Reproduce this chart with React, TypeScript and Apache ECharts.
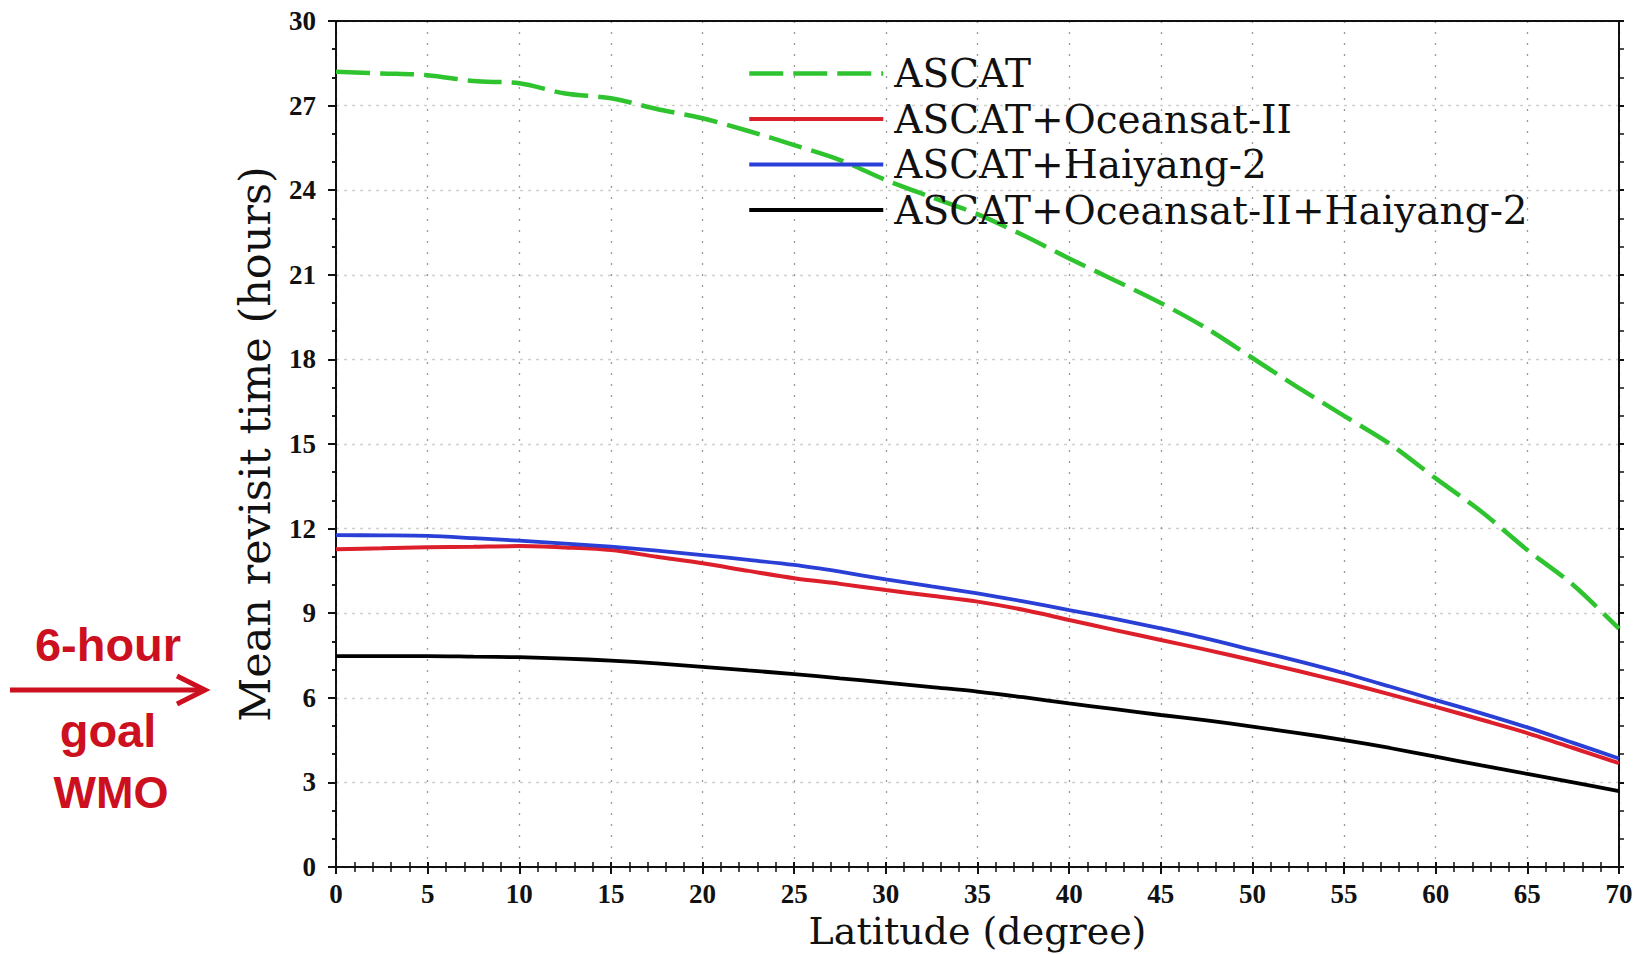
import React, { useEffect, useRef } from "react";
import * as echarts from "echarts";

// Latitude (degree)
const latitude = [0, 2.5, 5, 7.5, 10, 12.5, 15, 17.5, 20, 22.5, 25, 27.5, 30, 32.5, 35, 37.5, 40, 42.5, 45, 47.5, 50, 52.5, 55, 57.5, 60, 62.5, 65, 67.5, 70];

// Mean revisit time (hours)
const ascat = [28.2, 28.14, 28.08, 27.87, 27.79, 27.43, 27.26, 26.88, 26.55, 26.1, 25.6, 25.07, 24.36, 23.75, 23.15, 22.4, 21.58, 20.8, 20.0, 19.1, 18.05, 17.0, 16.0, 15.0, 13.78, 12.6, 11.24, 10.0, 8.45];
const ascatOceansat = [11.27, 11.3, 11.34, 11.36, 11.38, 11.33, 11.24, 11.0, 10.77, 10.5, 10.24, 10.04, 9.82, 9.62, 9.41, 9.12, 8.76, 8.4, 8.05, 7.7, 7.33, 6.95, 6.55, 6.12, 5.68, 5.22, 4.75, 4.22, 3.68];
const ascatHaiyang = [11.77, 11.76, 11.74, 11.66, 11.57, 11.47, 11.36, 11.22, 11.06, 10.89, 10.71, 10.47, 10.2, 9.95, 9.7, 9.42, 9.11, 8.8, 8.46, 8.1, 7.7, 7.3, 6.87, 6.4, 5.92, 5.45, 4.95, 4.4, 3.85];
const ascatAll = [7.48, 7.48, 7.48, 7.46, 7.44, 7.39, 7.32, 7.22, 7.1, 6.97, 6.84, 6.69, 6.54, 6.38, 6.22, 6.02, 5.8, 5.6, 5.39, 5.2, 4.98, 4.75, 4.5, 4.22, 3.91, 3.6, 3.3, 3.0, 2.69];

const seriesNames = ["ASCAT", "ASCAT+Oceansat-II", "ASCAT+Haiyang-2", "ASCAT+Oceansat-II+Haiyang-2"];
const seriesColors = ["#2fc42f", "#dc1f2a", "#2a3fd6", "#000000"];

const xRange = { min: 0, max: 70, interval: 5 };
const yRange = { min: 0, max: 30, interval: 3 };

const annotationLines = ["6-hour", "goal", "WMO"];

const SERIF = "DejaVu Serif";
const TICKFONT = "Liberation Serif";
const AXIS_COLOR = "#111";

function pairs(values: number[]) {
  return latitude.map((lat, i) => [lat, values[i]]);
}

export default function App() {
  const ref = useRef<HTMLDivElement>(null);

  useEffect(() => {
    if (!ref.current) return;
    const chart = echarts.init(ref.current, undefined, { renderer: "svg" });

    const tickLine = { color: AXIS_COLOR, width: 2 };

    const option: any = {
      animation: false,
      backgroundColor: "#ffffff",
      grid: { left: 336, right: 18, top: 21, bottom: 87, containLabel: false, outerBoundsMode: "none" },
      legend: {
        orient: "vertical",
        left: 742,
        top: 46,
        itemWidth: 134,
        itemHeight: 14,
        itemGap: 0.5,
        selectedMode: false,
        data: seriesNames,
        itemStyle: { opacity: 0 },
        lineStyle: { width: "inherit" },
        textStyle: {
          fontFamily: SERIF,
          fontSize: 39,
          color: "#111",
          lineHeight: 45,
          padding: [0, 0, 0, 6],
        },
      },
      xAxis: [
        {
          type: "value",
          position: "bottom",
          ...xRange,
          name: "Latitude (degree)",
          nameLocation: "middle",
          nameGap: 34,
          nameTextStyle: { fontFamily: SERIF, fontSize: 38, color: "#111", lineHeight: 38 },
          axisLine: { show: true, onZero: false, lineStyle: tickLine },
          axisTick: { show: true, inside: false, length: 7, lineStyle: tickLine },
          minorTick: { show: true, splitNumber: 5, length: 5, lineStyle: { color: AXIS_COLOR, width: 1.5 } },
          axisLabel: { fontFamily: TICKFONT, fontWeight: "bold", fontSize: 27, color: "#111", margin: 13, lineHeight: 27 },
          splitLine: { show: true, lineStyle: { color: "#999999", type: [2, 9], width: 1.3 } },
        },
        {
          type: "value",
          position: "bottom",
          ...xRange,
          axisLine: { show: false, onZero: false },
          axisTick: { show: true, inside: true, length: 5, lineStyle: tickLine },
          minorTick: { show: true, splitNumber: 5, length: 5, lineStyle: { color: AXIS_COLOR, width: 1.5 } },
          axisLabel: { show: false },
          splitLine: { show: false },
        },
        {
          type: "value",
          position: "top",
          ...xRange,
          axisLine: { show: true, onZero: false, lineStyle: tickLine },
          axisTick: { show: false },
          axisLabel: { show: false },
          splitLine: { show: false },
        },
      ],
      yAxis: [
        {
          type: "value",
          position: "left",
          ...yRange,
          name: "Mean revisit time (hours)",
          nameLocation: "middle",
          nameGap: 60,
          nameTextStyle: { fontFamily: SERIF, fontSize: 43, color: "#111", lineHeight: 43 },
          axisLine: { show: true, onZero: false, lineStyle: tickLine },
          axisTick: { show: true, inside: false, length: 8, lineStyle: tickLine },
          minorTick: { show: true, splitNumber: 3, length: 4, lineStyle: { color: AXIS_COLOR, width: 1.5 } },
          axisLabel: { fontFamily: TICKFONT, fontWeight: "bold", fontSize: 27, color: "#111", margin: 20 },
          splitLine: { show: true, lineStyle: { color: "#cfcfcf", type: [3, 5], width: 1.3 } },
        },
        {
          type: "value",
          position: "left",
          ...yRange,
          axisLine: { show: false, onZero: false },
          axisTick: { show: false },
          minorTick: { show: true, splitNumber: 3, length: 4, lineStyle: { color: AXIS_COLOR, width: 1.5 } },
          axisLabel: { show: false },
          splitLine: { show: false },
        },
        {
          type: "value",
          position: "right",
          ...yRange,
          axisLine: { show: true, onZero: false, lineStyle: tickLine },
          axisTick: { show: true, inside: false, length: 5, lineStyle: tickLine },
          minorTick: { show: true, splitNumber: 3, length: 5, lineStyle: { color: AXIS_COLOR, width: 1.5 } },
          axisLabel: { show: false },
          splitLine: { show: false },
        },
      ],
      series: [
        {
          name: seriesNames[0],
          type: "line",
          data: pairs(ascat),
          symbol: "none",
          showSymbol: false,
          smooth: 0.3,
          color: seriesColors[0],
          lineStyle: { color: seriesColors[0], width: 4.5, type: [34, 10] },
          z: 3,
        },
        {
          name: seriesNames[1],
          type: "line",
          data: pairs(ascatOceansat),
          symbol: "none",
          showSymbol: false,
          smooth: 0.3,
          color: seriesColors[1],
          lineStyle: { color: seriesColors[1], width: 4 },
          z: 3,
        },
        {
          name: seriesNames[2],
          type: "line",
          data: pairs(ascatHaiyang),
          symbol: "none",
          showSymbol: false,
          smooth: 0.3,
          color: seriesColors[2],
          lineStyle: { color: seriesColors[2], width: 3.8 },
          z: 4,
        },
        {
          name: seriesNames[3],
          type: "line",
          data: pairs(ascatAll),
          symbol: "none",
          showSymbol: false,
          smooth: 0.3,
          color: seriesColors[3],
          lineStyle: { color: seriesColors[3], width: 3.8 },
          z: 3,
        },
      ],
      graphic: [
        {
          type: "text",
          style: { text: annotationLines[0], x: 108, y: 644, align: "center", verticalAlign: "middle", fontFamily: "Liberation Sans", fontWeight: "bold", fontSize: 47, fill: "#cc1020" },
        },
        {
          type: "text",
          style: { text: annotationLines[1], x: 108, y: 730, align: "center", verticalAlign: "middle", fontFamily: "Liberation Sans", fontWeight: "bold", fontSize: 47, fill: "#cc1020" },
        },
        {
          type: "text",
          style: { text: annotationLines[2], x: 111, y: 792, align: "center", verticalAlign: "middle", fontFamily: "Liberation Sans", fontWeight: "bold", fontSize: 45, fill: "#cc1020" },
        },
        {
          type: "line",
          shape: { x1: 10, y1: 690, x2: 204, y2: 690 },
          style: { stroke: "#cc1020", lineWidth: 5 },
        },
        {
          type: "polyline",
          shape: { points: [[177, 676], [205, 690], [177, 704]] },
          style: { stroke: "#cc1020", lineWidth: 5, fill: null, lineJoin: "miter" },
        },
      ],
    };

    chart.setOption(option);
    return () => chart.dispose();
  }, []);

  return <div ref={ref} style={{ position: "absolute", left: 0, top: 0, width: 1637, height: 954 }} />;
}
